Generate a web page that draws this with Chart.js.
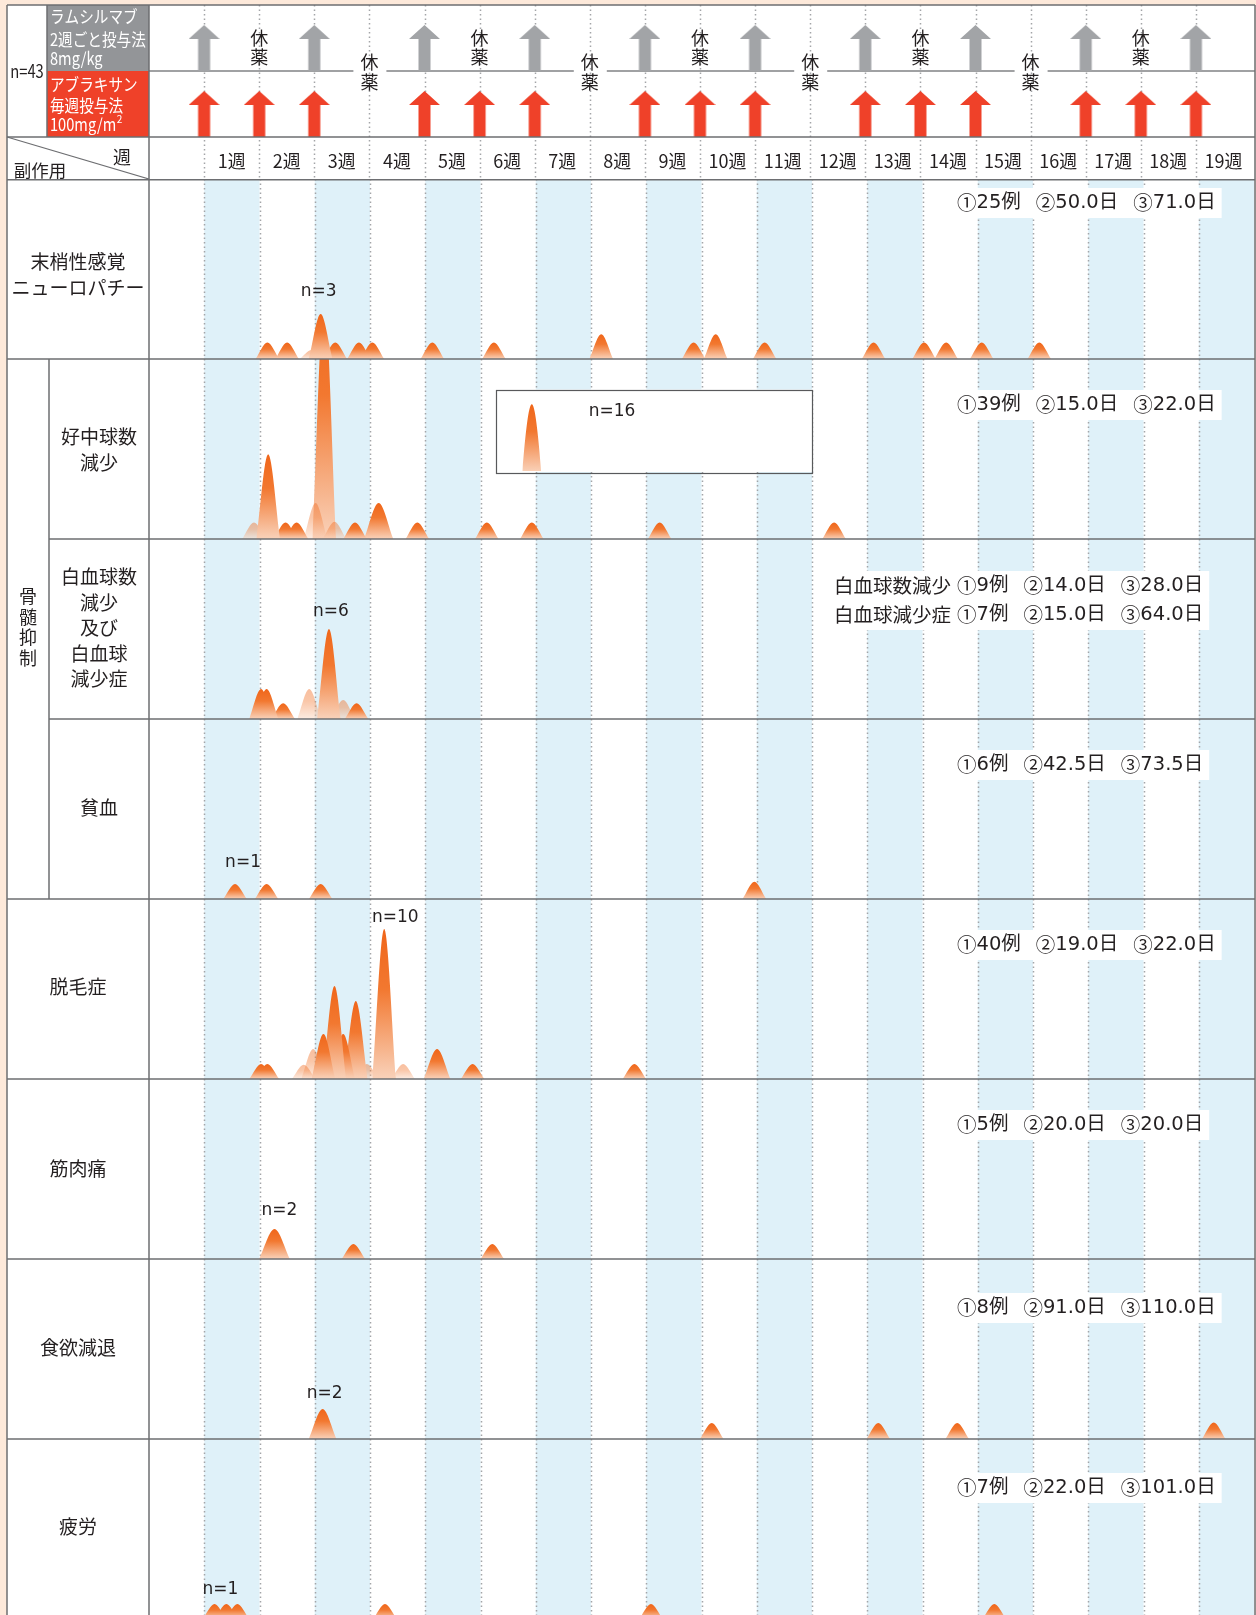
<!DOCTYPE html>
<html lang="ja">
<head>
<meta charset="utf-8">
<title>副作用の発現時期</title>
<script src="https://cdn.jsdelivr.net/npm/chart.js@4.4.1/dist/chart.umd.min.js"></script>
<style>
  html, body { margin: 0; padding: 0; background: #fde9da; }
  #wrap { position: relative; width: 1256px; height: 1615px; overflow: hidden; }
  #wrap canvas { position: absolute; left: 0; }
  #head { top: 0; }
  #body { top: 179px; }
</style>
</head>
<body>
<div id="wrap">
  <canvas id="head" width="1256" height="179"></canvas>
  <canvas id="body" width="1256" height="1446"></canvas>
</div>
<script>
// ---------- time axis (days from the first dose = day 0) ----------
const weekLabels = ['1週', '2週', '3週', '4週', '5週', '6週', '7週', '8週', '9週', '10週',
  '11週', '12週', '13週', '14週', '15週', '16週', '17週', '18週', '19週'];
const weekStartDays = [0, 7, 14, 21, 28, 35, 42, 49, 56, 63, 70, 77, 84, 91, 98, 105, 112, 119, 126];

// ---------- dosing schedule ----------
const ramucirumabDays = [0, 14, 28, 42, 56, 70, 84, 98, 112, 126];
const nabPaclitaxelDays = [0, 7, 14, 28, 35, 42, 56, 63, 70, 84, 91, 98, 112, 119, 126];
const ramucirumabRestDays = [7, 35, 63, 91, 119];
const fullRestDays = [21, 49, 77, 105];
const ramucirumabLabel = ['ラムシルマブ', '2週ごと投与法', '8mg/kg'];
const nabPaclitaxelLabel = ['アブラキサン', '毎週投与法', '100mg/m'];
const patientsLabel = 'n=43';

// ---------- adverse events: onset day / number of patients ----------
const eventLabelLines = [
  ['末梢性感覚', 'ニューロパチー'],
  ['好中球数', '減少'],
  ['白血球数', '減少', '及び', '白血球', '減少症'],
  ['貧血'],
  ['脱毛症'],
  ['筋肉痛'],
  ['食欲減退'],
  ['疲労']
];
const marrowGroupLabel = '骨髄抑制';
const marrowRows = [1, 2, 3];

const neuropathyDays   = [8.0, 10.5, 14.75, 16.6, 19.6, 21.3, 28.9, 36.7, 50.3, 62.0, 64.8, 71.0, 84.8, 91.2, 94.0, 98.5, 105.8];
const neuropathyCounts = [1.1, 1.1, 3, 1.1, 1.1, 1.1, 1.1, 1.1, 1.65, 1.1, 1.65, 1.1, 1.1, 1.1, 1.1, 1.1, 1.1];
const neuropathyBaseDays   = [13.6];
const neuropathyBaseCounts = [0.6];

const neutropeniaDays   = [8.1, 10.3, 11.7, 15.2, 19.1, 22.1, 27.0, 35.8, 41.5, 57.7, 79.8];
const neutropeniaCounts = [5.65, 1.1, 1.1, 16, 1.1, 2.4, 1.1, 1.1, 1.1, 1.1, 1.1];
const neutropeniaBaseDays   = [6.3, 14.1, 16.5];
const neutropeniaBaseCounts = [1.1, 2.4, 1.15];

const leukopeniaDays   = [7.2, 7.9, 10.0, 15.8, 19.3];
const leukopeniaCounts = [2, 2, 1.05, 6, 1.05];
const leukopeniaBaseDays   = [13.3, 17.6];
const leukopeniaBaseCounts = [2, 1.27];

const anemiaDays   = [3.9, 7.9, 14.75, 69.7];
const anemiaCounts = [1, 1, 1, 1.15];
const anemiaBaseDays = [];
const anemiaBaseCounts = [];

const alopeciaDays   = [7.2, 8.0, 15.1, 16.5, 17.6, 19.2, 22.8, 29.5, 34.0, 54.5];
const alopeciaCounts = [1, 1, 3, 6.2, 3, 5.2, 10, 2, 1, 1];
const alopeciaBaseDays   = [12.6, 13.8, 20.6, 25.2];
const alopeciaBaseCounts = [0.95, 2, 1, 1];

const myalgiaDays   = [8.9, 18.9, 36.5];
const myalgiaCounts = [2, 1, 1];
const myalgiaBaseDays = [];
const myalgiaBaseCounts = [];

const anorexiaDays   = [15.0, 64.3, 85.4, 95.4, 127.9];
const anorexiaCounts = [2, 1.07, 1.07, 1.07, 1.1];
const anorexiaBaseDays = [];
const anorexiaBaseCounts = [];

const fatigueDays   = [1.3, 2.8, 4.2, 22.9, 56.6, 100.1];
const fatigueCounts = [1, 1, 1, 1, 1, 1];
const fatigueBaseDays = [];
const fatigueBaseCounts = [];

// ①症例数 ②発現までの中央値 ③回復までの中央値
const eventSummaries = [
  [['', ['①25例', '②50.0日', '③71.0日']]],
  [['', ['①39例', '②15.0日', '③22.0日']]],
  [['白血球数減少', ['①9例', '②14.0日', '③28.0日']], ['白血球減少症', ['①7例', '②15.0日', '③64.0日']]],
  [['', ['①6例', '②42.5日', '③73.5日']]],
  [['', ['①40例', '②19.0日', '③22.0日']]],
  [['', ['①5例', '②20.0日', '③20.0日']]],
  [['', ['①8例', '②91.0日', '③110.0日']]],
  [['', ['①7例', '②22.0日', '③101.0日']]]
];

// peak notes: row, index of the peak within that row, text
const peakNoteRows    = [0, 2, 3, 4, 5, 6, 7];
const peakNoteIndexes = [2, 3, 0, 6, 0, 0, 0];
const peakNoteTexts   = ['n=3', 'n=6', 'n=1', 'n=10', 'n=2', 'n=2', 'n=1'];
const overflowNoteText = 'n=16';

// ---------- styles ----------
const FONT = "'Noto Sans CJK JP', 'Noto Sans', sans-serif";
const NUM_FONT = "'DejaVu Sans', 'Noto Sans CJK JP', sans-serif";
const INK = '#231f20';
const PAGE_BG = '#fde9da';
const BAND = '#dff1f9';
const RULE = '#6d6e71';
const DOT = '#a3a5a8';
const TABLE_L = 7, TABLE_R = 1255, GROUP_R = 49, LABEL_R = 149, DRUG_L = 47;
const Y_MAX = 12;          // patients spanned by one row height
const PEAK_HALF = 1.5;     // half width of a peak, in days
const widePeaks = { '1-5': 1.85, '5-0': 1.95, '6-0': 1.75, '4-7': 1.7 };  // "row-index": half width
const SUMMARY_X = 957;
const SUMMARY_PREFIX_X = 834;
const SUMMARY_GAP = 15;
const SUMMARY_SIZE = 19.5;
const summaryDy = [24, 46, 47, 46, 46, 46, 49, 49];
const labelShift = [6, 1, -1, -1, -2, 0, -1, -2];
const noteOffsets = [[-2, -22], [2, -17], [8, -21], [11, -11], [5, -18], [2, -15], [6, -14]];
const insetDays = [37, 77];          // inset frame in the neutropenia row
const insetTop = 30.5, insetBottom = 113;
const insetPeakDay = 41.5, insetNoteDay = 48.7, insetNoteDy = 53;
const insetScale = [2.0, 1.13];

const rowsData = [
  [neuropathyDays, neuropathyCounts, neuropathyBaseDays, neuropathyBaseCounts],
  [neutropeniaDays, neutropeniaCounts, neutropeniaBaseDays, neutropeniaBaseCounts],
  [leukopeniaDays, leukopeniaCounts, leukopeniaBaseDays, leukopeniaBaseCounts],
  [anemiaDays, anemiaCounts, anemiaBaseDays, anemiaBaseCounts],
  [alopeciaDays, alopeciaCounts, alopeciaBaseDays, alopeciaBaseCounts],
  [myalgiaDays, myalgiaCounts, myalgiaBaseDays, myalgiaBaseCounts],
  [anorexiaDays, anorexiaCounts, anorexiaBaseDays, anorexiaBaseCounts],
  [fatigueDays, fatigueCounts, fatigueBaseDays, fatigueBaseCounts]
];

function peakGradient(ctx, top, base, faint) {
  const g = ctx.createLinearGradient(0, top, 0, base);
  const a = faint ? 0.42 : 1;
  g.addColorStop(0, `rgba(240,102,26,${a})`);
  g.addColorStop(0.4, `rgba(242,120,48,${a})`);
  g.addColorStop(1, `rgba(249,210,186,${a})`);
  return g;
}

function peakFill(context) {
  const chart = context.chart;
  if (!chart.chartArea) return 'rgba(0,0,0,0)';
  const ds = chart.data.datasets[context.datasetIndex];
  const ys = chart.scales[ds.yAxisID];
  return peakGradient(chart.ctx, ys.getPixelForValue(ds.data[1].y), ys.getPixelForValue(0), ds.faint);
}

function peakDataset(day, count, row, faint, half) {
  const overflow = count > Y_MAX;
  return {
    type: 'line',
    data: [{x: day - half, y: 0}, {x: day, y: count}, {x: day + half, y: 0}],
    yAxisID: 'r' + row,
    fill: 'origin',
    borderWidth: 0,
    borderColor: 'rgba(0,0,0,0)',
    pointRadius: 0,
    pointHoverRadius: 0,
    cubicInterpolationMode: 'monotone',
    backgroundColor: peakFill,
    order: overflow ? 3 : (faint ? 2 : 0),
    faint: faint,
    overflow: overflow
  };
}

const bodyDatasets = [];
rowsData.forEach(([days, counts, baseDays, baseCounts], r) => {
  days.forEach((d, i) => bodyDatasets.push(peakDataset(d, counts[i], r, false, widePeaks[r + '-' + i] || PEAK_HALF)));
  baseDays.forEach((d, i) => bodyDatasets.push(peakDataset(d, baseCounts[i], r, true, PEAK_HALF)));
});

function dottedWeekLines(chart, yTop, yBottom) {
  const {ctx} = chart;
  const xs = chart.scales.x;
  ctx.save();
  ctx.strokeStyle = DOT;
  ctx.lineWidth = 1.5;
  ctx.setLineDash([1.5, 3]);
  weekStartDays.forEach(d => {
    const x = Math.round(xs.getPixelForValue(d)) + 0.5;
    ctx.beginPath(); ctx.moveTo(x, yTop); ctx.lineTo(x, yBottom); ctx.stroke();
  });
  ctx.restore();
}

function line(ctx, x0, y0, x1, y1) { ctx.beginPath(); ctx.moveTo(x0, y0); ctx.lineTo(x1, y1); ctx.stroke(); }

function condensedText(ctx, text, x, y, sx) {
  ctx.save(); ctx.translate(x, y); ctx.scale(sx, 1); ctx.fillText(text, 0, 0); ctx.restore();
}

// one summary group: circled numeral, then the value with its unit
function summaryGroupWidth(ctx, g) {
  ctx.font = `${SUMMARY_SIZE}px ${FONT}`;
  const w0 = ctx.measureText(g[0]).width;
  ctx.font = `${SUMMARY_SIZE}px ${NUM_FONT}`;
  return w0 + ctx.measureText(g.slice(1)).width;
}
function drawSummaryGroup(ctx, g, x, y) {
  ctx.font = `${SUMMARY_SIZE}px ${FONT}`;
  ctx.fillText(g[0], x, y);
  const w0 = ctx.measureText(g[0]).width;
  ctx.font = `${SUMMARY_SIZE}px ${NUM_FONT}`;
  ctx.fillText(g.slice(1), x + w0, y);
}

// ---------- header: dosing schedule and week axis ----------
function arrowImage(color) {
  const c = document.createElement('canvas');
  c.width = 31; c.height = 92;
  const g = c.getContext('2d');
  g.fillStyle = color;
  g.beginPath();
  g.moveTo(15.5, 0); g.lineTo(31, 14); g.lineTo(21.5, 14); g.lineTo(21.5, 46);
  g.lineTo(9.5, 46); g.lineTo(9.5, 14); g.lineTo(0, 14); g.closePath();
  g.fill();
  return c;
}

const headDecor = {
  id: 'headDecor',
  beforeDraw(chart) {
    const {ctx} = chart;
    const xs = chart.scales.x, yR = chart.scales.yRam, yN = chart.scales.yNab;
    ctx.save();
    ctx.fillStyle = PAGE_BG; ctx.fillRect(0, 0, chart.width, chart.height);
    ctx.fillStyle = '#fff'; ctx.fillRect(TABLE_L, yR.top, TABLE_R - TABLE_L, chart.height - yR.top);
    ctx.fillStyle = '#939598'; ctx.fillRect(DRUG_L, yR.top, LABEL_R - DRUG_L, yR.bottom - yR.top);
    ctx.fillStyle = '#ef4129'; ctx.fillRect(DRUG_L, yN.top, LABEL_R - DRUG_L, yN.bottom - yN.top);
    ctx.restore();
    dottedWeekLines(chart, yR.top, chart.height);
    // ramucirumab baseline, interrupted at full rest weeks
    ctx.save();
    ctx.strokeStyle = '#808285'; ctx.lineWidth = 1.5;
    const y = yR.bottom;
    let x0 = LABEL_R;
    fullRestDays.forEach(d => {
      const xc = xs.getPixelForValue(d);
      line(ctx, x0, y, xc - 16, y);
      x0 = xc + 17;
    });
    line(ctx, x0, y, TABLE_R, y);
    ctx.restore();
  },
  afterDraw(chart) {
    const {ctx} = chart;
    const xs = chart.scales.x, yR = chart.scales.yRam, yN = chart.scales.yNab;
    ctx.save();
    ctx.strokeStyle = RULE; ctx.lineWidth = 1.5;
    line(ctx, TABLE_L, yR.top, TABLE_R, yR.top);
    line(ctx, TABLE_L, yR.top, TABLE_L, chart.height);
    line(ctx, TABLE_R, yR.top, TABLE_R, chart.height);
    line(ctx, LABEL_R, yR.top, LABEL_R, chart.height);
    line(ctx, DRUG_L, yR.top, DRUG_L, yN.bottom);
    line(ctx, TABLE_L, yN.bottom, TABLE_R, yN.bottom);
    ctx.lineWidth = 1.2;
    line(ctx, TABLE_L, yN.bottom, LABEL_R, chart.height);

    ctx.fillStyle = INK;
    ctx.textBaseline = 'middle';
    ctx.textAlign = 'center';
    ctx.font = `18px ${FONT}`;
    condensedText(ctx, patientsLabel, (TABLE_L + DRUG_L) / 2, yR.bottom, 0.82);
    ctx.font = `18px ${FONT}`;
    ctx.fillText('週', 122, 157);
    ctx.font = `17.5px ${FONT}`;
    ctx.fillText('副作用', 40, 170);

    // drug labels
    ctx.textAlign = 'left';
    ctx.fillStyle = '#fff';
    ctx.font = `17px ${FONT}`;
    [17, 39.5, 58.5].forEach((yy, i) => condensedText(ctx, ramucirumabLabel[i], 50, yy, 0.86));
    [85, 106, 125].forEach((yy, i) => condensedText(ctx, nabPaclitaxelLabel[i], 50, yy, 0.86));
    const mw = ctx.measureText(nabPaclitaxelLabel[2]).width * 0.86;
    ctx.font = `10px ${FONT}`;
    ctx.fillText('2', 50 + mw + 0.5, 119);

    // rest-period marks
    ctx.fillStyle = INK;
    ctx.textAlign = 'center';
    ctx.font = `18px ${FONT}`;
    ramucirumabRestDays.forEach(d => {
      const x = xs.getPixelForValue(d);
      ctx.fillText('休', x, 38.5); ctx.fillText('薬', x, 57);
    });
    fullRestDays.forEach(d => {
      const x = xs.getPixelForValue(d);
      ctx.fillText('休', x, 62); ctx.fillText('薬', x, 82);
    });
    ctx.restore();
  }
};

new Chart(document.getElementById('head'), {
  type: 'scatter',
  data: {
    datasets: [
      { data: ramucirumabDays.map(d => ({x: d, y: 0})), yAxisID: 'yRam', pointStyle: arrowImage('#a2a4a7'), clip: false },
      { data: nabPaclitaxelDays.map(d => ({x: d, y: 0})), yAxisID: 'yNab', pointStyle: arrowImage('#ef4129'), clip: false }
    ]
  },
  options: {
    responsive: false, animation: false, devicePixelRatio: 1, events: [],
    layout: { padding: { left: LABEL_R, right: 1256 - 1254, top: 5, bottom: 0 } },
    plugins: { legend: { display: false }, tooltip: { enabled: false } },
    scales: {
      x: {
        type: 'linear', position: 'bottom', min: -7, max: 133,
        afterBuildTicks: axis => { axis.ticks = weekStartDays.map(d => ({ value: d + 3.5 })); },
        afterFit: axis => { axis.height = 42; },
        grid: { display: false, drawTicks: false }, border: { display: false },
        ticks: { autoSkip: false, maxRotation: 0, padding: 13, color: INK,
          font: { family: FONT, size: 18 }, callback: (v, i) => weekLabels[i] }
      },
      yRam: { type: 'linear', position: 'right', stack: 'dose', min: 0, max: 1, display: false },
      yNab: { type: 'linear', position: 'right', stack: 'dose', min: 0, max: 1, display: false }
    }
  },
  plugins: [headDecor]
});

// ---------- body: onset distributions per adverse event ----------
const bodyScales = {
  x: { type: 'linear', min: -7, max: 133, display: false }
};
eventLabelLines.forEach((_, r) => {
  bodyScales['r' + r] = { type: 'linear', position: 'right', stack: 'rows', min: 0, max: Y_MAX, display: false };
});

const bodyDecor = {
  id: 'bodyDecor',
  beforeDraw(chart) {
    const {ctx, chartArea: a} = chart;
    const xs = chart.scales.x;
    ctx.save();
    ctx.fillStyle = PAGE_BG; ctx.fillRect(0, 0, chart.width, chart.height);
    ctx.fillStyle = '#fff'; ctx.fillRect(TABLE_L, 0, TABLE_R - TABLE_L, chart.height);
    ctx.fillStyle = BAND;
    weekStartDays.forEach((d, i) => {
      if (i % 2 !== 0) return;
      const x0 = xs.getPixelForValue(d), x1 = xs.getPixelForValue(d + 7);
      ctx.fillRect(x0, a.top, x1 - x0, a.bottom - a.top);
    });
    ctx.restore();
    dottedWeekLines(chart, 0, chart.height);
  },
  beforeDatasetsDraw(chart) {
    const {ctx, chartArea: a} = chart;
    const over = chart.data.datasets.filter(d => d.overflow);
    chart.$overLeft = over.length;
    if (!over.length) return;
    ctx.save();
    ctx.beginPath();
    over.forEach(d => { const ys = chart.scales[d.yAxisID]; ctx.rect(a.left, ys.top, a.right - a.left, ys.bottom - ys.top); });
    ctx.clip();
  },
  afterDatasetDraw(chart, args) {
    const ds = chart.data.datasets[args.index];
    if (ds.overflow) {
      chart.$overLeft -= 1;
      if (chart.$overLeft === 0) chart.ctx.restore();
    }
  },
  afterDatasetsDraw(chart) {
    const {ctx} = chart;
    const xs = chart.scales.x;
    ctx.save();
    // row rules and left columns
    ctx.strokeStyle = RULE; ctx.lineWidth = 1.5;
    line(ctx, TABLE_L, 0.75, TABLE_R, 0.75);
    eventLabelLines.forEach((_, r) => {
      const ys = chart.scales['r' + r];
      const inGroup = marrowRows.includes(r) && marrowRows.includes(r + 1);
      if (r < eventLabelLines.length - 1) line(ctx, inGroup ? GROUP_R : TABLE_L, ys.bottom, TABLE_R, ys.bottom);
    });
    line(ctx, TABLE_L, 0, TABLE_L, chart.height);
    line(ctx, TABLE_R, 0, TABLE_R, chart.height);
    line(ctx, LABEL_R, 0, LABEL_R, chart.height);
    const gTop = chart.scales['r' + marrowRows[0]].top;
    const gBot = chart.scales['r' + marrowRows[marrowRows.length - 1]].bottom;
    line(ctx, GROUP_R, gTop, GROUP_R, gBot);

    // event names
    ctx.fillStyle = INK;
    ctx.textAlign = 'center';
    ctx.textBaseline = 'middle';
    ctx.font = `19px ${FONT}`;
    eventLabelLines.forEach((lines, r) => {
      const ys = chart.scales['r' + r];
      const cx = marrowRows.includes(r) ? (GROUP_R + LABEL_R) / 2 : (TABLE_L + LABEL_R) / 2;
      const cy = (ys.top + ys.bottom) / 2 + labelShift[r];
      lines.forEach((t, i) => ctx.fillText(t, cx, cy + (i - (lines.length - 1) / 2) * 25.5));
    });
    ctx.font = `18px ${FONT}`;
    const gc = (gTop + gBot) / 2 - 2;
    [...marrowGroupLabel].forEach((ch, i) => ctx.fillText(ch, (TABLE_L + GROUP_R) / 2, gc + (i - 1.5) * 20.6));

    // summaries
    ctx.textAlign = 'left';
    eventSummaries.forEach((items, r) => {
      const ys = chart.scales['r' + r];
      items.forEach(([prefix, groups], k) => {
        const y = ys.top + summaryDy[r] + k * 29;
        let w = 0;
        groups.forEach((g, j) => { w += summaryGroupWidth(ctx, g) + (j ? SUMMARY_GAP : 0); });
        const x0 = prefix ? SUMMARY_PREFIX_X : SUMMARY_X;
        ctx.fillStyle = '#fff';
        ctx.fillRect(x0 - 5, y - 15, SUMMARY_X + w + 6 - (x0 - 5), 30);
      });
      items.forEach(([prefix, groups], k) => {
        const y = ys.top + summaryDy[r] + k * 29;
        ctx.fillStyle = INK;
        if (prefix) {
          ctx.font = `${SUMMARY_SIZE}px ${FONT}`;
          ctx.fillText(prefix, SUMMARY_PREFIX_X, y);
        }
        let x = SUMMARY_X;
        groups.forEach(g => {
          drawSummaryGroup(ctx, g, x, y);
          x += summaryGroupWidth(ctx, g) + SUMMARY_GAP;
        });
      });
    });

    // peak notes
    ctx.textAlign = 'center';
    ctx.font = `17px ${NUM_FONT}`;
    ctx.fillStyle = INK;
    peakNoteRows.forEach((r, k) => {
      const ys = chart.scales['r' + r];
      const [days, counts] = rowsData[r];
      const i = peakNoteIndexes[k];
      const x = xs.getPixelForValue(days[i]) + noteOffsets[k][0];
      const y = ys.getPixelForValue(counts[i]) + noteOffsets[k][1];
      ctx.fillText(peakNoteTexts[k], x, y);
    });

    // inset showing the part of the tallest peak above its row
    const overIdx = chart.data.datasets.findIndex(d => d.overflow);
    if (overIdx >= 0) {
      const ds = chart.data.datasets[overIdx];
      const ys = chart.scales[ds.yAxisID];
      const bx0 = xs.getPixelForValue(insetDays[0]), bx1 = xs.getPixelForValue(insetDays[1]);
      const by0 = ys.top + insetTop, by1 = ys.top + insetBottom;
      ctx.fillStyle = '#fff';
      ctx.fillRect(bx0, by0, bx1 - bx0, by1 - by0);
      ctx.strokeStyle = '#58595b'; ctx.lineWidth = 1.2;
      ctx.strokeRect(Math.round(bx0) + 0.5, Math.round(by0) + 0.5, Math.round(bx1 - bx0), Math.round(by1 - by0));
      const lineEl = chart.getDatasetMeta(overIdx).dataset;
      const peakX = xs.getPixelForValue(ds.data[1].x);
      const peakTop = ys.getPixelForValue(ds.data[1].y);
      ctx.save();
      ctx.beginPath(); ctx.rect(bx0 + 1, by0 + 1, bx1 - bx0 - 2, by1 - by0 - 2); ctx.clip();
      ctx.translate(xs.getPixelForValue(insetPeakDay), by1);
      ctx.scale(insetScale[0], insetScale[1]);
      ctx.translate(-peakX, -ys.top);
      ctx.beginPath();
      lineEl.path(ctx);
      ctx.closePath();
      ctx.fillStyle = peakGradient(ctx, peakTop, ys.top, false);
      ctx.fill();
      ctx.restore();
      ctx.fillStyle = INK;
      ctx.textAlign = 'left';
      ctx.font = `17px ${NUM_FONT}`;
      ctx.fillText(overflowNoteText, xs.getPixelForValue(insetNoteDay), ys.top + insetNoteDy);
    }
    ctx.restore();
  }
};

new Chart(document.getElementById('body'), {
  type: 'line',
  data: { datasets: bodyDatasets },
  options: {
    responsive: false, animation: false, devicePixelRatio: 1, events: [],
    layout: { padding: { left: LABEL_R, right: 1256 - 1254, top: 0, bottom: 6 } },
    plugins: { legend: { display: false }, tooltip: { enabled: false } },
    scales: bodyScales
  },
  plugins: [bodyDecor]
});
</script>
</body>
</html>
